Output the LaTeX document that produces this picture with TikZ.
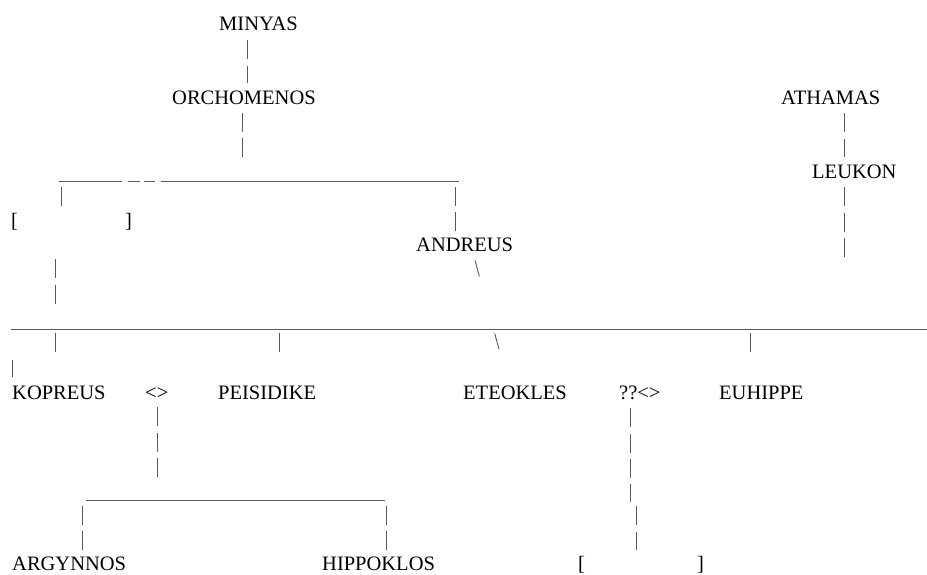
\documentclass[tikz,border=0pt]{standalone}
\usepackage{fontspec}
\setmainfont{Liberation Serif}

\begin{document}
\begin{tikzpicture}[
    x=1pt, y=-1pt,
    person/.style={inner sep=0pt, anchor=base west, font=\fontsize{20.5}{24}\selectfont},
    pipe/.style={draw=black!65, line width=0.9pt, dash pattern=on 19pt off 6.3pt},
    bar/.style={draw=black!65, line width=0.9pt}
    ]
    \useasboundingbox (0,0) rectangle (927,574);

    \node[person] (minyas) at (219,30) {MINYAS};
    \node[person] (orchomenos) at (172,104) {ORCHOMENOS};
    \node[person] (athamas) at (781,104) {ATHAMAS};
    \node[person] (leukon) at (812,178) {LEUKON};
    \node[person] (unknownA) at (11,227.3) {[\hspace{107pt}]};
    \node[person] (andreus) at (416,251) {ANDREUS};
    \node[person] (kopreus) at (12,399) {KOPREUS};
    \node[person] (wedA) at (145,399) {<>};
    \node[person] (peisidike) at (218,399) {PEISIDIKE};
    \node[person] (eteokles) at (463,399) {ETEOKLES};
    \node[person] (wedB) at (619,399) {??<>};
    \node[person] (euhippe) at (719,399) {EUHIPPE};
    \node[person] (argynnos) at (12,570.5) {ARGYNNOS};
    \node[person] (hippoklos) at (322,570.5) {HIPPOKLOS};
    \node[person] (unknownB) at (578,570.5) {[\hspace{112pt}]};

    \coordinate (topL) at (59,181.7);
    \coordinate (topR) at (459,181.7);
    \coordinate (longL) at (11,329);
    \coordinate (longR) at (927,329);
    \coordinate (lowL) at (86,500);
    \coordinate (lowR) at (385,500);
    \coordinate (leukonEnd) at (844,257);

    \draw[bar, dash pattern=on 63pt off 6pt on 12pt off 4pt on 11pt off 6pt on 298pt] (topL) -- (topR);
    \draw[bar] (longL) -- (longR);
    \draw[bar] (lowL) -- (lowR);

    \draw[pipe, shorten <=10pt, shorten >=7pt] (minyas.south -| 247.7,0) -- (orchomenos.north -| 247.7,0);
    \draw[pipe, shorten <=8.7pt, shorten >=24.2pt] (orchomenos.south -| 242.7,0) -- (topL -| 242.7,0);
    \draw[pipe, shorten <=5.3pt, shorten >=7pt] (topL -| 61,0) -- (unknownA.north -| 61,0);
    \draw[pipe, shorten <=29pt, shorten >=24pt] (unknownA.south -| 55.7,0) -- (longL -| 55.7,0);
    \draw[pipe, shorten <=5.3pt, shorten >=6pt] (topR -| 455,0) -- (andreus.north -| 455,0);
    \draw[pipe, dash pattern=on 16.6pt off 59pt, shorten <=9.3pt, shorten >=37.3pt] (andreus.south -| 472.6,0) -- (eteokles.north -| 508.7,0);

    \draw[pipe, shorten <=4pt, shorten >=31pt] (longL -| 55.7,0) -- (kopreus.north -| 55.7,0);
    \draw[pipe, shorten <=31pt, shorten >=8pt] (longL -| 12.7,0) -- (kopreus.north -| 12.7,0);
    \draw[pipe, shorten <=4pt, shorten >=31pt] (longL -| 279,0) -- (peisidike.north -| 279,0);
    \draw[pipe, shorten <=4pt, shorten >=31pt] (longL -| 750,0) -- (euhippe.north -| 750,0);

    \draw[pipe, shorten <=8pt, shorten >=23pt] (wedA.south -| 157,0) -- (lowL -| 157,0);
    \draw[pipe, shorten <=6pt, shorten >=6.5pt] (lowL -| 82,0) -- (argynnos.north -| 82,0);
    \draw[pipe, shorten <=6pt, shorten >=6.5pt] (lowL -| 386,0) -- (hippoklos.north -| 386,0);

    \draw[pipe, shorten <=9pt, shorten >=54pt] (wedB.south -| 630.7,0) -- (unknownB.north -| 630.7,0);
    \draw[pipe, shorten <=107pt, shorten >=6pt] (wedB.south -| 636,0) -- (unknownB.north -| 636,0);

    \draw[pipe, shorten <=9pt, shorten >=7pt] (athamas.south -| 844,0) -- (leukon.north -| 844,0);
    \draw[pipe, shorten <=9pt] (leukon.south -| 844,0) -- (leukonEnd);
  \end{tikzpicture}
\end{document}
